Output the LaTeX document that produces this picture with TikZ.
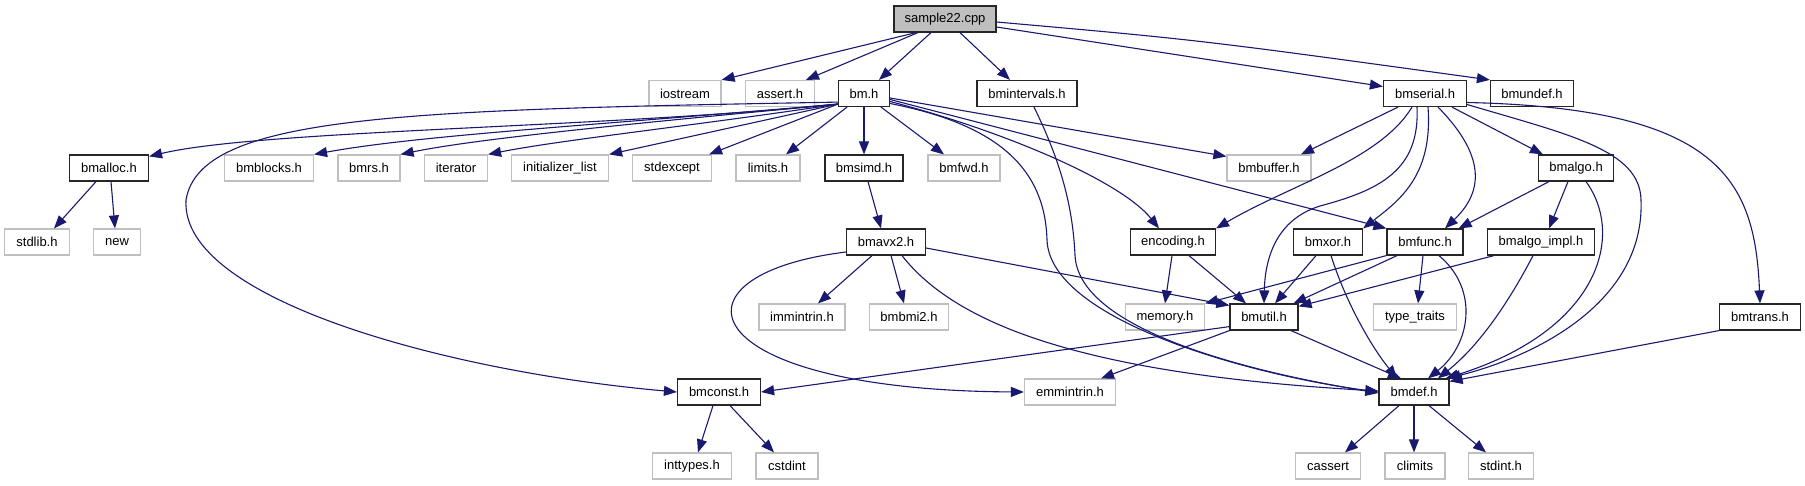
\documentclass[tikz,border=0pt]{standalone}
\usepackage{fontspec}
\setmainfont{Liberation Sans}
\usetikzlibrary{arrows.meta}
\definecolor{edgec}{HTML}{191970}
\definecolor{gbord}{HTML}{BFBFBF}
\definecolor{rootfill}{HTML}{BFBFBF}
\begin{document}
\begin{tikzpicture}[x=1pt,y=-1pt,
  base/.style={rectangle,minimum height=26pt,inner sep=0pt,line width=1.2pt,font=\fontsize{13}{15}\selectfont,fill=white},
  doc/.style={base,draw=black!85},
  ext/.style={base,draw=gbord},
  root/.style={base,draw=black!85,fill=rootfill},
  e/.style={draw=edgec,line width=1.1pt,-{Triangle[length=13pt,width=10pt]}}]
\useasboundingbox[fill=white] (0,0) rectangle (1805,485);
% row 0
\node[root,minimum width=102pt] (s) at (945,19) {sample22.cpp};
% row 1
\node[ext,minimum width=72pt] (io) at (685,93.5) {iostream};
\node[ext,minimum width=69pt] (as) at (780,93.5) {assert.h};
\node[doc,minimum width=51pt] (bm) at (864,93.5) {bm.h};
\node[doc,minimum width=100pt] (bmi) at (1027,93.5) {bmintervals.h};
\node[doc,minimum width=83pt] (bms) at (1425,93.5) {bmserial.h};
\node[doc,minimum width=83pt] (bmu) at (1532,93.5) {bmundef.h};
% row 2
\node[doc,minimum width=79pt] (ba) at (109,168) {bmalloc.h};
\node[ext,minimum width=89pt] (bb) at (269,168) {bmblocks.h};
\node[ext,minimum width=62pt] (br) at (369,168) {bmrs.h};
\node[ext,minimum width=63pt] (it) at (456,168) {iterator};
\node[ext,minimum width=97pt] (il) at (560,168) {initializer\_list};
\node[ext,minimum width=79pt] (se) at (672,168) {stdexcept};
\node[ext,minimum width=64pt] (li) at (768,168) {limits.h};
\node[doc,minimum width=78pt] (bsi) at (864,168) {bmsimd.h};
\node[ext,minimum width=72pt] (bf) at (964,168) {bmfwd.h};
\node[ext,minimum width=84pt] (bbuf) at (1269,168) {bmbuffer.h};
\node[doc,minimum width=75pt] (bal) at (1576,168) {bmalgo.h};
% row 3
\node[ext,minimum width=65pt] (sl) at (37,242) {stdlib.h};
\node[ext,minimum width=47pt] (nw) at (117,242) {new};
\node[doc,minimum width=79pt] (bav) at (886,242) {bmavx2.h};
\node[doc,minimum width=85pt] (enc) at (1173,242) {encoding.h};
\node[doc,minimum width=69pt] (bxo) at (1328,242) {bmxor.h};
\node[doc,minimum width=76pt] (bfu) at (1425,242) {bmfunc.h};
\node[doc,minimum width=107pt] (bai) at (1541,242) {bmalgo\_impl.h};
% row 4
\node[ext,minimum width=86pt] (imm) at (802,317) {immintrin.h};
\node[ext,minimum width=79pt] (bmi2) at (909,317) {bmbmi2.h};
\node[ext,minimum width=79pt] (mem) at (1165,317) {memory.h};
\node[doc,minimum width=68pt] (but) at (1264,317) {bmutil.h};
\node[ext,minimum width=83pt] (tt) at (1415,317) {type\_traits};
\node[doc,minimum width=81pt] (btr) at (1760,317) {bmtrans.h};
% row 5
\node[doc,minimum width=83pt] (bc) at (719,392) {bmconst.h};
\node[ext,minimum width=91pt] (emm) at (1070,392) {emmintrin.h};
\node[doc,minimum width=70pt] (bd) at (1414,392) {bmdef.h};
% row 6
\node[ext,minimum width=79pt] (itp) at (692,466) {inttypes.h};
\node[ext,minimum width=62pt] (csi) at (787,466) {cstdint};
\node[ext,minimum width=65pt] (cas) at (1328,466) {cassert};
\node[ext,minimum width=60pt] (cli) at (1415,466) {climits};
\node[ext,minimum width=65pt] (sti) at (1501,466) {stdint.h};
% edges from sample22.cpp
\draw[e] ([xshift=-29pt]s.south) -- (io.north east);
\draw[e] ([xshift=-27pt]s.south) -- ([xshift=26pt]as.north);
\draw[e] ([xshift=-14pt]s.south) -- ([xshift=15pt]bm.north);
\draw[e] ([xshift=15pt]s.south) -- ([xshift=-17pt]bmi.north);
\draw[e] ([yshift=-8pt]s.east) -- ([yshift=7pt]bms.west);
\draw[e] ([yshift=-3pt]s.east) .. controls (1200,40) .. (bmu.north west);
% edges from bm.h
\draw[e] ([yshift=3pt]bm.south west) .. controls (600,128) and (260,130) .. ([yshift=-2pt]ba.north east);
\draw[e] ([yshift=3pt]bm.south west) .. controls (600,125) and (420,135) .. (bb.north east);
\draw[e] ([yshift=3pt]bm.south west) .. controls (650,122) and (480,138) .. (br.north east);
\draw[e] ([yshift=3pt]bm.south west) .. controls (700,125) and (560,140) .. (it.north east);
\draw[e] ([yshift=3pt]bm.south west) -- (il.north east);
\draw[e] ([yshift=3pt]bm.south west) -- ([xshift=-3pt]se.north east);
\draw[e] ([xshift=-17pt]bm.south) -- ([xshift=18pt]li.north);
\draw[e] (bm.south) -- (bsi.north);
\draw[e] ([xshift=17pt]bm.south) -- ([xshift=-20pt]bf.north);
\draw[e] ([yshift=-4.5pt]bm.east) -- ([yshift=-2pt]bbuf.north west);
\draw[e] ([yshift=-6pt]bm.east) -- (bfu.north west);
\draw[e] ([yshift=-8pt]bm.east) .. controls (1000,130) and (1120,180) .. ([xshift=-14pt]enc.north);
\draw[e] ([yshift=-10pt]bm.east) .. controls (1000,125) and (1045,170) .. (1047,240) .. controls (1050,320) and (1250,375) .. (bd.west);
\draw[e] ([yshift=5pt]bm.south west) .. controls (400,110) and (200,115) .. (186,200) .. controls (180,300) and (450,372) .. (bc.west);
% bmintervals
\draw[e] ([xshift=7pt]bmi.south) .. controls (1065,170) and (1073,215) .. (1075,255) .. controls (1078,330) and (1250,372) .. ([yshift=-1pt]bd.west);
% bmalloc
\draw[e] ([xshift=-13pt]ba.south) -- ([xshift=17pt]sl.north);
\draw[e] ([xshift=2pt]ba.south) -- ([xshift=-2pt]nw.north);
% bmsimd
\draw[e] ([xshift=4pt]bsi.south) -- ([xshift=-5pt]bav.north);
% bmavx2
\draw[e] ([xshift=-14pt]bav.south) -- ([xshift=16pt]imm.north);
\draw[e] ([xshift=5pt]bav.south) -- ([xshift=-5pt]bmi2.north);
\draw[e] ([yshift=-10pt]bav.west) .. controls (660,275) and (690,390) .. (emm.west);
\draw[e] ([xshift=16pt]bav.south) .. controls (960,330) and (1100,375) .. ([yshift=1pt]bd.west);
\draw[e] ([yshift=-6pt]bav.east) -- ([yshift=-2pt]but.north west);
% encoding
\draw[e] ([xshift=-1pt]enc.south) -- (mem.north);
\draw[e] ([xshift=16pt]enc.south) -- ([xshift=-18pt]but.north);
% bmserial
\draw[e] ([xshift=-27pt]bms.south) -- ([xshift=32pt]bbuf.north);
\draw[e] ([xshift=-13pt]bms.south) .. controls (1380,160) and (1290,185) .. (enc.north east);
\draw[e] ([xshift=-8pt]bms.south) .. controls (1420,170) and (1380,190) .. (1320,206) .. controls (1275,220) and (1265,260) .. (but.north);
\draw[e] ([xshift=3pt]bms.south) .. controls (1433,175) and (1400,200) .. (bxo.north east);
\draw[e] ([xshift=13pt]bms.south) .. controls (1490,160) and (1480,195) .. ([xshift=20pt]bfu.north);
\draw[e] ([xshift=27pt]bms.south) -- ([xshift=5pt]bal.north west);
\draw[e] ([yshift=-11pt]bms.east) .. controls (1570,135) and (1640,150) .. (1641,200) .. controls (1645,300) and (1540,355) .. ([xshift=-2pt]bd.north east);
\draw[e] ([yshift=-9pt]bms.east) .. controls (1720,108) and (1755,180) .. (btr.north);
% bmalgo
\draw[e] ([xshift=-27pt]bal.south) -- ([xshift=-5pt]bfu.north east);
\draw[e] ([xshift=-8pt]bal.south) -- ([xshift=8pt]bai.north);
\draw[e] ([xshift=10pt]bal.south) .. controls (1625,235) and (1600,330) .. ([xshift=-4pt]bd.north east);
% bmxor
\draw[e] ([xshift=-12pt]bxo.south) -- ([xshift=11pt]but.north);
\draw[e] ([xshift=3pt]bxo.south) .. controls (1345,300) and (1370,345) .. ([xshift=-17pt]bd.north);
% bmfunc
\draw[e] (bfu.south west) -- (mem.north east);
\draw[e] ([xshift=-28pt]bfu.south) -- ([xshift=-5pt]but.north east);
\draw[e] ([xshift=-2pt]bfu.south) -- ([xshift=3pt]tt.north);
\draw[e] ([xshift=14pt]bfu.south) .. controls (1480,290) and (1470,345) .. ([xshift=14pt]bd.north);
% bmalgo_impl
\draw[e] ([xshift=-47pt]bai.south) -- ([yshift=-3pt]but.north east);
\draw[e] ([xshift=-8pt]bai.south) .. controls (1510,300) and (1480,345) .. ([xshift=24pt]bd.north);
% bmutil
\draw[e] ([xshift=27pt]but.south) -- ([xshift=-13pt]bd.north);
\draw[e] ([yshift=4pt]but.south west) -- (bc.east);
\draw[e] (but.south west) -- ([xshift=31pt]emm.north);
% bmtrans
\draw[e] (btr.south west) -- ([yshift=-3pt]bd.north east);
% bmdef
\draw[e] ([xshift=-15pt]bd.south) -- ([xshift=17pt]cas.north);
\draw[e] (bd.south) -- ([xshift=-1pt]cli.north);
\draw[e] ([xshift=15pt]bd.south) -- ([xshift=-15pt]sti.north);
% bmconst
\draw[e] ([xshift=-6pt]bc.south) -- ([xshift=6pt]itp.north);
\draw[e] ([xshift=11pt]bc.south) -- ([xshift=-13pt]csi.north);
\end{tikzpicture}
\end{document}
